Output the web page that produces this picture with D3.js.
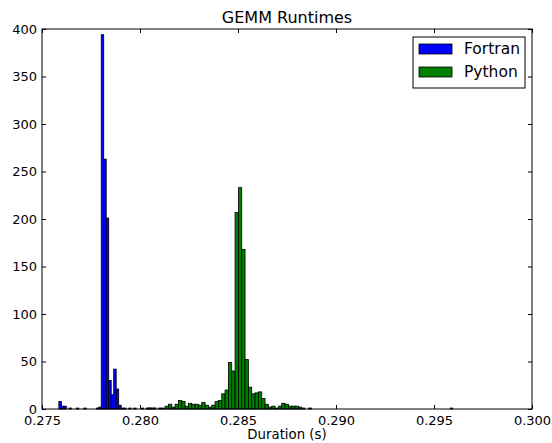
<!DOCTYPE html>
<html>
<head>
<meta charset="utf-8">
<script src="https://cdn.jsdelivr.net/npm/d3@7"></script>
<style>
  body { margin: 0; background: #fff; }
  text { font-family: "DejaVu Sans", sans-serif; }
</style>
</head>
<body>
<div id="chart"></div>
<script>
// histogram bins: first left edge + bin width, counts
var fortranStart = 0.27586;
var fortranBinWidth = 0.0001272;
var fortranCounts = [
  8, 3, 3, 0, 1, 0, 0, 1, 0, 0, 1, 0, 0, 0, 0, 1, 2, 394, 263, 201,
  30, 15, 42, 21, 4, 1, 1, 0, 1, 0, 1, 0, 0, 1, 0, 1, 1, 0, 1, 0,
  0, 0, 0, 0, 0, 0, 0, 0, 0, 0, 0, 0, 0, 0, 0, 0, 0, 0, 0, 0,
  0, 0, 0, 0, 0, 0, 0, 0, 0, 0, 0, 0, 0, 0, 0, 0, 0, 0, 0, 0,
  0, 0, 0, 0, 0, 0, 0, 0, 0, 0, 0, 0, 0, 0, 0, 0, 0, 0, 0, 0,
  0, 0, 0, 0, 0, 0, 0, 0, 0, 0, 0, 0, 0, 0, 0, 0, 0, 0, 0, 0,
  0, 0, 0, 0, 0, 0, 0, 0, 0, 0, 0, 0, 0, 0, 0, 0, 0, 0, 0, 0,
  0, 0, 0, 0, 0, 0, 0, 0, 0, 0, 0, 0, 0, 0, 0, 0, 0, 1
];
var pythonStart = 0.28043;
var pythonBinWidth = 0.00017;
var pythonCounts = [
  1, 1, 0, 1, 1, 3, 5, 2, 5, 9, 8, 3, 6, 5, 5, 4, 7, 4, 2, 4,
  8, 9, 16, 20, 49, 40, 207, 233, 168, 52, 23, 16, 17, 18, 11, 5, 2, 3, 1, 3,
  6, 5, 3, 3, 3, 2, 1, 0, 1, 0
];
var seriesNames = ["Fortran", "Python"];
var seriesColors = ["#0000ff", "#008000"];
var xTicks = [0.275, 0.280, 0.285, 0.290, 0.295, 0.300];
var yTicks = [0, 50, 100, 150, 200, 250, 300, 350, 400];

var width = 552;
var height = 443;
// plot box (note: "top" is reserved on window, so use prefixed names)
var plotLeft = 42, plotRight = 532, plotTop = 29, plotBottom = 409;

var svg = d3.select("#chart")
  .append("svg")
  .attr("width", width)
  .attr("height", height);

var x = d3.scaleLinear().domain([0.275, 0.300]).range([plotLeft, plotRight]);
var y = d3.scaleLinear().domain([0, 400]).range([plotBottom, plotTop]);

function binsOf(start, w, counts) {
  return counts.map((c, i) => ({ x0: start + i * w, x1: start + (i + 1) * w, count: c }));
}

var series = [
  binsOf(fortranStart, fortranBinWidth, fortranCounts),
  binsOf(pythonStart, pythonBinWidth, pythonCounts)
];

// bars
series.forEach(function (bins, k) {
  svg.append("g")
    .selectAll("rect")
    .data(bins.filter(d => d.count > 0))
    .enter()
    .append("rect")
    .attr("x", d => x(d.x0))
    .attr("y", d => y(d.count))
    .attr("width", d => x(d.x1) - x(d.x0))
    .attr("height", d => y(0) - y(d.count))
    .attr("fill", seriesColors[k])
    .attr("stroke", "#000")
    .attr("stroke-width", 0.8);
});

// axes, ticks pointing inward on all four sides
var axB = svg.append("g").attr("transform", "translate(0," + plotBottom + ")")
  .call(d3.axisBottom(x).tickValues(xTicks).tickSize(-4).tickPadding(7).tickFormat(d3.format(".3f")));
var axT = svg.append("g").attr("transform", "translate(0," + plotTop + ")")
  .call(d3.axisTop(x).tickValues(xTicks).tickSize(-4).tickFormat(""));
var axL = svg.append("g").attr("transform", "translate(" + plotLeft + ",0)")
  .call(d3.axisLeft(y).tickValues(yTicks).tickSize(-4).tickPadding(5));
var axR = svg.append("g").attr("transform", "translate(" + plotRight + ",0)")
  .call(d3.axisRight(y).tickValues(yTicks).tickSize(-4).tickFormat(""));

[axB, axT, axL, axR].forEach(function (g) {
  g.select(".domain").remove();
  g.selectAll(".tick line").attr("stroke", "#000");
  g.selectAll(".tick text")
    .attr("fill", "#000")
    .style("font-size", "13px")
    .style("font-family", "DejaVu Sans");
});

svg.append("rect")
  .attr("x", plotLeft).attr("y", plotTop)
  .attr("width", plotRight - plotLeft).attr("height", plotBottom - plotTop)
  .attr("fill", "none").attr("stroke", "#000").attr("stroke-width", 1);

// title and label
svg.append("text")
  .attr("x", (plotLeft + plotRight) / 2)
  .attr("y", 23)
  .attr("text-anchor", "middle")
  .style("font-size", "16px")
  .text("GEMM Runtimes");

svg.append("text")
  .attr("x", (plotLeft + plotRight) / 2)
  .attr("y", 439)
  .attr("text-anchor", "middle")
  .style("font-size", "13.3px")
  .text("Duration (s)");

// legend
var legend = svg.append("g").attr("transform", "translate(413,37)");
legend.append("rect")
  .attr("width", 112).attr("height", 51)
  .attr("fill", "#fff").attr("stroke", "#000").attr("stroke-width", 1);

var items = legend.selectAll(".legend")
  .data(seriesNames)
  .enter()
  .append("g")
  .attr("class", "legend")
  .attr("transform", (d, i) => "translate(0," + (i * 23) + ")");

items.append("rect")
  .attr("x", 6).attr("y", 7)
  .attr("width", 33).attr("height", 10)
  .attr("fill", (d, i) => seriesColors[i])
  .attr("stroke", "#000").attr("stroke-width", 0.8);

items.append("text")
  .attr("x", 51)
  .attr("y", 17)
  .style("font-size", "15.5px")
  .text(d => d);
</script>
</body>
</html>
